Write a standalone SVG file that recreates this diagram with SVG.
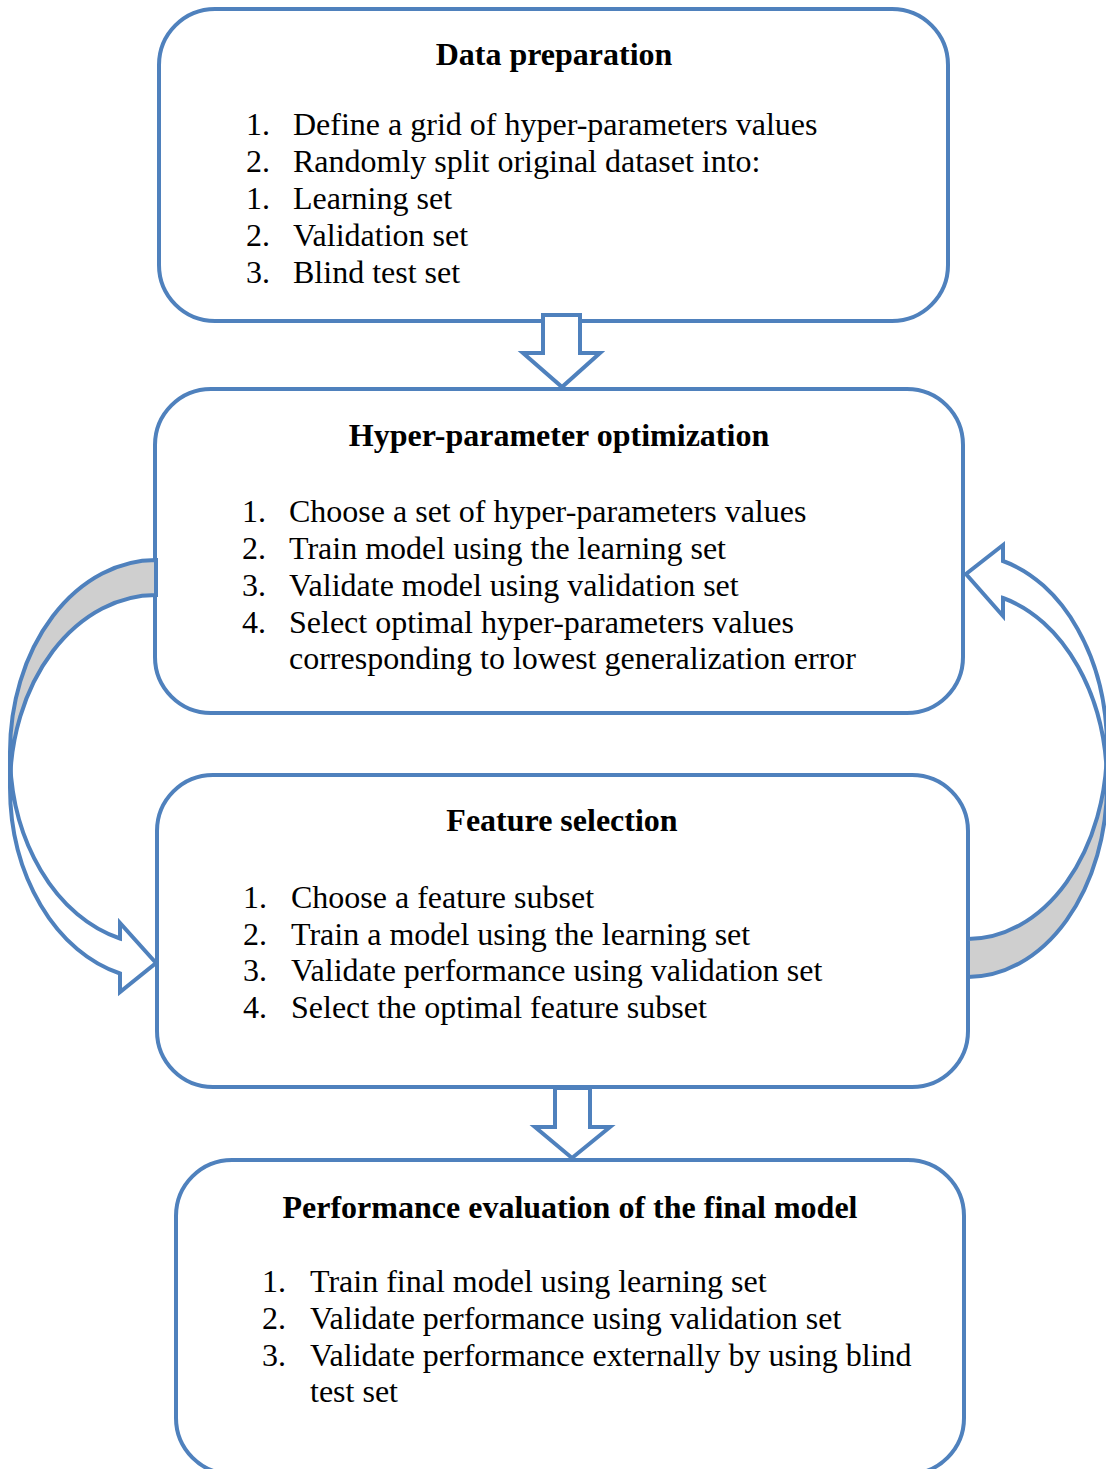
<svg xmlns="http://www.w3.org/2000/svg" width="1106" height="1469" viewBox="0 0 1106 1469">
  <style>
    .box { fill: #ffffff; stroke: #4f81bd; stroke-width: 4; }
    .arrow { fill: #ffffff; stroke: #4f81bd; stroke-width: 4; stroke-linejoin: miter; }
    .back { fill: #cfcfcf; stroke: #4f81bd; stroke-width: 4; }
    text { font-family: "Liberation Serif", "Times New Roman", serif; font-size: 32px; fill: #000000; }
    .title { font-weight: bold; text-anchor: middle; }
  </style>

  <rect width="1106" height="1469" fill="#ffffff"/>

  <!-- Step 1 -->
  <g id="data-preparation">
    <rect class="box" x="159" y="9" width="789" height="312" rx="56" ry="56"/>
    <text class="title" x="554" y="65">Data preparation</text>
    <text x="246" y="135">1.</text><text x="293" y="135">Define a grid of hyper-parameters values</text>
    <text x="246" y="172">2.</text><text x="293" y="172">Randomly split original dataset into:</text>
    <text x="246" y="209">1.</text><text x="293" y="209">Learning set</text>
    <text x="246" y="246">2.</text><text x="293" y="246">Validation set</text>
    <text x="246" y="283">3.</text><text x="293" y="283">Blind test set</text>
  </g>

  <!-- Step 2 -->
  <g id="hyper-parameter-optimization">
    <rect class="box" x="155" y="389" width="808" height="324" rx="56" ry="56"/>
    <text class="title" x="559" y="446">Hyper-parameter optimization</text>
    <text x="242" y="522">1.</text><text x="289" y="522">Choose a set of hyper-parameters values</text>
    <text x="242" y="559">2.</text><text x="289" y="559">Train model using the learning set</text>
    <text x="242" y="596">3.</text><text x="289" y="596">Validate model using validation set</text>
    <text x="242" y="633">4.</text><text x="289" y="633">Select optimal hyper-parameters values</text>
    <text x="289" y="669">corresponding to lowest generalization error</text>
  </g>

  <!-- Step 3 -->
  <g id="feature-selection">
    <rect class="box" x="157" y="775" width="811" height="312" rx="56" ry="56"/>
    <text class="title" x="562" y="831">Feature selection</text>
    <text x="243" y="908">1.</text><text x="291" y="908">Choose a feature subset</text>
    <text x="243" y="945">2.</text><text x="291" y="945">Train a model using the learning set</text>
    <text x="243" y="981">3.</text><text x="291" y="981">Validate performance using validation set</text>
    <text x="243" y="1018">4.</text><text x="291" y="1018">Select the optimal feature subset</text>
  </g>

  <!-- Step 4 (runs past the lower edge) -->
  <g id="performance-evaluation">
    <rect class="box" x="176" y="1160" width="788" height="314" rx="56" ry="56"/>
    <text class="title" x="570" y="1218">Performance evaluation of the final model</text>
    <text x="262" y="1292">1.</text><text x="310" y="1292">Train final model using learning set</text>
    <text x="262" y="1329">2.</text><text x="310" y="1329">Validate performance using validation set</text>
    <text x="262" y="1366">3.</text><text x="310" y="1366">Validate performance externally by using blind</text>
    <text x="310" y="1402">test set</text>
  </g>

  <!-- Block arrows between the steps -->
  <g id="connectors">
    <!-- step 1 to step 2 -->
    <path class="arrow" d="M543,315 L580,315 L580,353 L600,353 L562,387 L523,353 L543,353 Z"/>
    <!-- step 3 to step 4 -->
    <path class="arrow" d="M555,1088 L590,1088 L590,1127 L610,1127 L572,1158 L535,1127 L555,1127 Z"/>

    <!-- curved arrow on the left: optimization feeds feature selection -->
    <path class="back" d="M156,560 A146,192.2 0 0 0 10,752.2 L10,787.2 A146,192.2 0 0 1 156,595 Z"/>
    <path class="arrow" d="M10,752.2 A146,192.2 0 0 0 120,938.5 L120,923 L156,963 L120,992 L120,973.5 A146,192.2 0 0 1 10,787.2 Z"/>

    <!-- curved arrow on the right: feature selection loops back to optimization -->
    <path class="back" d="M968,977 A139,192.6 0 0 0 1107,784.4 L1107,746.4 A139,192.6 0 0 1 968,939 Z"/>
    <path class="arrow" d="M1107,784.4 A139,192.6 0 0 0 1003,598 L1003,616 L966,574 L1003,545 L1003,561 A139,192.6 0 0 1 1107,746.4 Z"/>
  </g>
</svg>
